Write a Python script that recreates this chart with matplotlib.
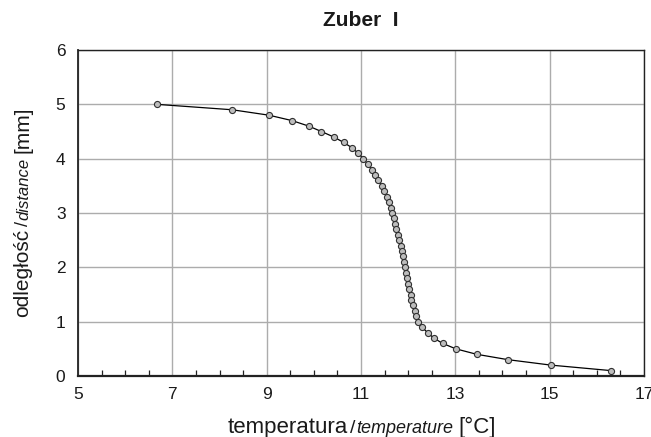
import matplotlib
matplotlib.use("Agg")
import matplotlib.pyplot as plt
from matplotlib.ticker import MultipleLocator

plt.rcParams['font.family'] = ['Liberation Sans', 'DejaVu Sans']

title = "Zuber  I"
distance_mm = [5.0, 4.9, 4.8, 4.7, 4.6, 4.5, 4.4, 4.3, 4.2, 4.1,
               4.0, 3.9, 3.8, 3.7, 3.6, 3.5, 3.4, 3.3, 3.2, 3.1,
               3.0, 2.9, 2.8, 2.7, 2.6, 2.5, 2.4, 2.3, 2.2, 2.1,
               2.0, 1.9, 1.8, 1.7, 1.6, 1.5, 1.4, 1.3, 1.2, 1.1,
               1.0, 0.9, 0.8, 0.7, 0.6, 0.5, 0.4, 0.3, 0.2, 0.1]
temperature_c = [6.67, 8.27, 9.05, 9.54, 9.89, 10.16, 10.42, 10.63, 10.81, 10.94,
                 11.05, 11.14, 11.23, 11.30, 11.37, 11.44, 11.49, 11.55, 11.59, 11.63,
                 11.66, 11.69, 11.72, 11.75, 11.78, 11.81, 11.84, 11.87, 11.89, 11.91,
                 11.94, 11.96, 11.98, 12.00, 12.02, 12.05, 12.07, 12.10, 12.14, 12.17,
                 12.21, 12.29, 12.41, 12.54, 12.73, 13.01, 13.45, 14.12, 15.03, 16.29]
x_ticks = [5, 7, 9, 11, 13, 15, 17]
y_ticks = [0, 1, 2, 3, 4, 5, 6]

fig = plt.figure(figsize=(6.51, 4.37), dpi=100)
W, H = 651, 437
ax = fig.add_axes([78 / W, 1 - 376 / H, (644 - 78) / W, (376 - 50) / H])

ax.plot(temperature_c, distance_mm, color='black', lw=0.9, marker='o',
        markersize=4.4, markerfacecolor='#bdbdbd', markeredgecolor='#303030',
        markeredgewidth=0.8, zorder=3)

ax.set_xlim(5, 17)
ax.set_ylim(0, 6)
ax.set_xticks(x_ticks)
ax.set_yticks(y_ticks)
ax.xaxis.set_minor_locator(MultipleLocator(0.5))
ax.grid(True, which='major', color='#acacac', lw=1.0)
ax.set_axisbelow(True)
ax.tick_params(which='major', length=0, labelsize=12.5, colors='#1a1a1a')
ax.tick_params(axis='x', which='major', pad=8)
ax.tick_params(axis='y', which='major', pad=9)
ax.tick_params(axis='x', which='minor', direction='in', length=4, width=0.9, color='#222222')
ax.tick_params(axis='y', which='minor', length=0)
for s in ax.spines.values():
    s.set_linewidth(1.0)
    s.set_color('#222222')
ax.spines['bottom'].set_linewidth(1.6)
ax.spines['left'].set_linewidth(1.3)

fig.text(361 / W, 1 - 21 / H, title, ha='center', va='center',
         fontsize=15, fontweight='bold', color='#1a1a1a')

fig.canvas.draw()
renderer = fig.canvas.get_renderer()

# x label pieces
xpieces = [("temperatura", 16, 'normal', 0), ("/", 14, 'normal', 2), ("temperature", 13, 'italic', 1),
           ("[°C]", 16, 'normal', 5)]
texts = []
cur = 0
for s, fs, st, gap in xpieces:
    cur += gap
    t = fig.text(cur / W, 1 - 433 / H, s, fontsize=fs, style=st, ha='left',
                 va='baseline', color='#1a1a1a')
    w = t.get_window_extent(renderer).width
    texts.append((t, cur))
    cur += w
total = cur
start = 362 - total / 2
for t, off in texts:
    t.set_x((start + off) / W)

# y label pieces (rotated)
ypieces = [("odległość", 15, 'normal', 0), ("/", 13, 'normal', 3), ("distance", 12, 'italic', 1),
           ("[mm]", 15, 'normal', 5)]
texts = []
cur = 0
for s, fs, st, gap in ypieces:
    cur += gap
    t = fig.text(28 / W, cur / H, s, fontsize=fs, style=st, ha='left',
                 va='baseline', rotation=90, rotation_mode='anchor', color='#1a1a1a')
    h = t.get_window_extent(renderer).height
    texts.append((t, cur))
    cur += h
total = cur
start = (437 - 212) - total / 2
for t, off in texts:
    t.set_y((start + off) / H)

fig.savefig("out.png", dpi=100)
